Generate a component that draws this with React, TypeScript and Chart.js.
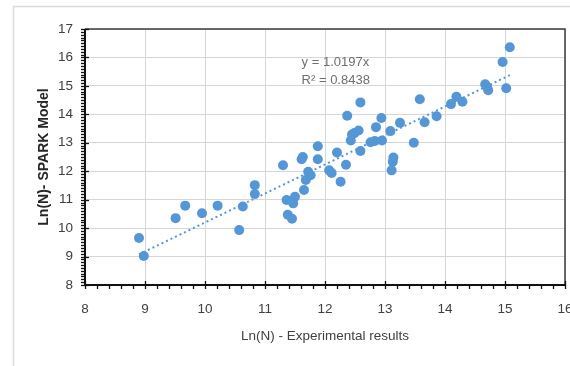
import React, { useEffect, useRef } from "react";
import { Chart, registerables } from "chart.js";

Chart.register(...registerables);

// Experimental Ln(N) (x) and SPARK model Ln(N) (y)
const expLnN = [
  8.9, 8.98, 9.51, 9.67, 9.95, 10.21, 10.57, 10.63, 10.83, 10.83,
  11.3, 11.36, 11.38, 11.45, 11.47, 11.5, 11.61, 11.63, 11.65, 11.68,
  11.72, 11.76, 11.88, 11.88, 12.07, 12.11, 12.2, 12.26, 12.35, 12.37,
  12.43, 12.45, 12.49, 12.56, 12.59, 12.59, 12.76, 12.83, 12.85, 12.94,
  12.95, 13.09, 13.11, 13.13, 13.14, 13.25, 13.48, 13.58, 13.66, 13.86,
  14.1, 14.19, 14.29, 14.67, 14.7, 14.72, 14.96, 15.02, 15.08,
];
const sparkLnN = [
  9.65, 9.02, 10.35, 10.79, 10.52, 10.79, 9.93, 10.76, 11.51, 11.2,
  12.21, 10.99, 10.47, 10.33, 10.87, 11.1, 12.42, 12.5, 11.34, 11.69,
  11.98, 11.86, 12.88, 12.42, 12.03, 11.94, 12.66, 11.63, 12.23, 13.95,
  13.08, 13.29, 13.34, 13.43, 14.42, 12.71, 13.02, 13.06, 13.55, 13.87,
  13.08, 13.41, 12.03, 12.33, 12.48, 13.7, 13.0, 14.53, 13.72, 13.93,
  14.36, 14.62, 14.44, 15.06, 14.97, 14.85, 15.84, 14.92, 16.36,
];

const trendSlope = 1.0197;
const equationText = "y = 1.0197x";
const r2Text = "R\u00B2 = 0.8438";
const xTitle = "Ln(N) - Experimental results";
const yTitle = "Ln(N)- SPARK Model";
const xRange = [8, 16];
const yRange = [8, 17];
const xMinorPerUnit = 5;
const yMinorPerUnit = 10;
const labelAnchor = { x: 11.61, y: 15.84 };

const FONT = "'Liberation Sans', Arial, sans-serif";
const BLUE = "#5597d6";

const decorPlugin = {
  id: "decor",
  beforeDraw(chart: any) {
    const ctx = chart.ctx;
    ctx.save();
    ctx.fillStyle = "#ffffff";
    ctx.fillRect(0, 0, chart.width, chart.height);
    ctx.strokeStyle = "#dadada";
    ctx.lineWidth = 1.5;
    ctx.strokeRect(13.5, 6.5, chart.width + 40, chart.height + 40);
    ctx.restore();
  },
  beforeDatasetsDraw(chart: any) {
    const { ctx, chartArea: a, scales } = chart;
    const xs = scales.x;
    const ys = scales.y;
    ctx.save();
    ctx.strokeStyle = "#3c3c3c";
    ctx.lineWidth = 1.5;
    ctx.beginPath();
    ctx.moveTo(a.left, a.top);
    ctx.lineTo(a.right, a.top);
    ctx.lineTo(a.right, a.bottom);
    ctx.stroke();
    ctx.strokeStyle = "#111111";
    ctx.lineWidth = 2;
    ctx.beginPath();
    ctx.moveTo(a.left, a.top);
    ctx.lineTo(a.left, a.bottom);
    ctx.lineTo(a.right, a.bottom);
    ctx.stroke();
    ctx.lineWidth = 1.3;
    const nx = (xs.max - xs.min) * xMinorPerUnit;
    for (let i = 0; i <= nx; i++) {
      const v = xs.min + i / xMinorPerUnit;
      const px = Math.round(xs.getPixelForValue(v)) + 0.5;
      const major = i % xMinorPerUnit === 0;
      ctx.beginPath();
      ctx.moveTo(px, a.bottom - (major ? 4 : 0));
      ctx.lineTo(px, a.bottom + 4);
      ctx.stroke();
    }
    const ny = (ys.max - ys.min) * yMinorPerUnit;
    for (let i = 0; i <= ny; i++) {
      const v = ys.min + i / yMinorPerUnit;
      const py = Math.round(ys.getPixelForValue(v)) + 0.5;
      const major = i % yMinorPerUnit === 0;
      ctx.beginPath();
      ctx.moveTo(a.left - 4, py);
      ctx.lineTo(a.left + (major ? 4 : 0), py);
      ctx.stroke();
    }
    ctx.restore();
  },
  afterDatasetsDraw(chart: any) {
    const { ctx, scales } = chart;
    const px = scales.x.getPixelForValue(labelAnchor.x);
    const py = scales.y.getPixelForValue(labelAnchor.y);
    ctx.save();
    ctx.font = `13px ${FONT}`;
    ctx.fillStyle = "#6f6f6f";
    ctx.textAlign = "left";
    ctx.textBaseline = "middle";
    ctx.fillText(equationText, px, py);
    ctx.fillText(r2Text, px, py + 18);
    ctx.restore();
  },
};

export default function App() {
  const ref = useRef<HTMLCanvasElement | null>(null);
  useEffect(() => {
    document.body.style.margin = "0";
    if (!ref.current) return;
    const xmin = Math.min(...expLnN);
    const xmax = Math.max(...expLnN);
    const chart = new Chart(ref.current, {
      type: "scatter",
      data: {
        datasets: [
          {
            label: "Linear (SPARK)",
            data: [
              { x: xmin, y: trendSlope * xmin },
              { x: xmax, y: trendSlope * xmax },
            ],
            showLine: true,
            borderColor: BLUE,
            borderWidth: 2,
            borderDash: [2, 3],
            pointRadius: 0,
            fill: false,
          },
          {
            label: "SPARK",
            data: expLnN.map((x, i) => ({ x, y: sparkLnN[i] })),
            pointRadius: 5,
            pointBackgroundColor: BLUE,
            pointBorderWidth: 0,
            borderWidth: 0,
            showLine: false,
          },
        ],
      },
      options: {
        responsive: false,
        animation: false,
        devicePixelRatio: 1,
        layout: { padding: { top: 29, right: 4, bottom: 0, left: 0 } },
        plugins: {
          legend: { display: false },
          tooltip: { enabled: false },
        },
        scales: {
          x: {
            type: "linear",
            min: xRange[0],
            max: xRange[1],
            border: { display: false },
            grid: { color: "#d6d6d6", lineWidth: 1, drawTicks: false },
            ticks: {
              stepSize: 1,
              padding: 16,
              color: "#404040",
              font: { family: FONT, size: 13.5 },
              maxRotation: 0,
            },
            title: {
              display: true,
              text: xTitle,
              color: "#404040",
              font: { family: FONT, size: 13.5 },
              padding: { top: 0, bottom: 22 },
            },
            afterFit(scale: any) {
              scale.height = 81;
              scale.paddingLeft = 0;
              scale.paddingRight = 0;
            },
          },
          y: {
            type: "linear",
            min: yRange[0],
            max: yRange[1],
            border: { display: false },
            grid: { color: "#d6d6d6", lineWidth: 1, drawTicks: false },
            ticks: {
              stepSize: 1,
              padding: 12,
              color: "#404040",
              font: { family: FONT, size: 13.5 },
            },
            title: {
              display: true,
              text: yTitle,
              color: "#262626",
              font: { family: FONT, size: 14, weight: "bold" },
              padding: { top: 36, bottom: 0 },
            },
            afterFit(scale: any) {
              scale.width = 85;
              scale.paddingTop = 0;
              scale.paddingBottom = 0;
            },
          },
        },
      },
      plugins: [decorPlugin],
    } as any);
    return () => chart.destroy();
  }, []);
  return (
    <div style={{ width: 570, height: 366 }}>
      <canvas ref={ref} width={570} height={366} style={{ display: "block" }} />
    </div>
  );
}
